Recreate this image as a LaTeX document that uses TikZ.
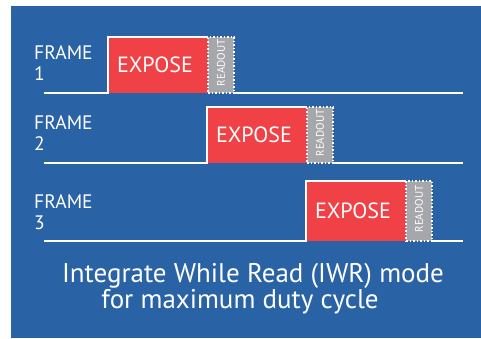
\documentclass[tikz,border=0pt]{standalone}
\usepackage{fontspec}
\setmainfont{PT Sans}
\usetikzlibrary{positioning}
\definecolor{panel}{HTML}{2963A6}
\definecolor{exposure}{HTML}{EF4146}
\definecolor{readgray}{HTML}{A6A7AA}

\tikzset{
  signal/.style={draw=white, line width=1.8pt},
  exposebox/.style={fill=exposure, minimum width=100pt, inner sep=0pt, outer sep=0pt,
    text=white, font=\fontsize{22}{24}\selectfont},
  readbox/.style={fill=readgray, draw=white, dotted, line width=1.5pt, minimum width=26pt,
    inner sep=0pt, outer sep=0pt},
  readlabel/.style={rotate=90, text=white, font=\fontsize{11}{12}\selectfont},
  framelabel/.style={text=white, align=left, anchor=north west, inner sep=0pt,
    font=\fontsize{19.5}{21}\selectfont},
  caption/.style={text=white, font=\fontsize{27}{30}\selectfont}
}

\begin{document}
\begin{tikzpicture}[x=1pt, y=-1pt]
  \useasboundingbox (0,0) rectangle (481,338);
  \fill[panel] (11,6) rectangle (481,338);

  % Frame 1
  \node[framelabel] (lab1) at (34,45) {FRAME\\1};
  \node[exposebox, minimum height=56pt] (exp1) at (158,65) {EXPOSE\hspace*{6pt}};
  \node[readbox, minimum height=56pt, right=0pt of exp1] (rd1) {};
  \node[readlabel] at ([yshift=2pt]rd1) {READOUT};
  \coordinate (s1) at (44,93);
  \coordinate (e1) at (463,93);
  \draw[signal] (s1) -- (exp1.south west) -- (exp1.north west) -- (exp1.north east);
  \draw[signal] (rd1.south east) -- (e1);

  % Frame 2
  \node[framelabel] (lab2) at (34,115) {FRAME\\2};
  \node[exposebox, minimum height=56pt] (exp2) at (257,135) {EXPOSE\hspace*{6pt}};
  \node[readbox, minimum height=56pt, right=0pt of exp2] (rd2) {};
  \node[readlabel] at ([yshift=2pt]rd2) {READOUT};
  \coordinate (s2) at (44,163);
  \coordinate (e2) at (463,163);
  \draw[signal] (s2) -- (exp2.south west) -- (exp2.north west) -- (exp2.north east);
  \draw[signal] (rd2.south east) -- (e2);

  % Frame 3
  \node[framelabel] (lab3) at (34,194) {FRAME\\3};
  \node[exposebox, minimum height=60pt] (exp3) at (356,211) {EXPOSE\hspace*{6pt}};
  \node[readbox, minimum height=60pt, right=0pt of exp3] (rd3) {};
  \node[readlabel] at ([yshift=2pt]rd3) {READOUT};
  \coordinate (s3) at (44,241);
  \coordinate (e3) at (463,241);
  \draw[signal] (s3) -- (exp3.south west) -- (exp3.north west) -- (exp3.north east);
  \draw[signal] (rd3.south east) -- (e3);

  % mode description
  \node[caption] (cap1) at (253,276) {Integrate While Read (IWR) mode};
  \node[caption] (cap2) at (240,302) {for maximum duty cycle};
\end{tikzpicture}
\end{document}
